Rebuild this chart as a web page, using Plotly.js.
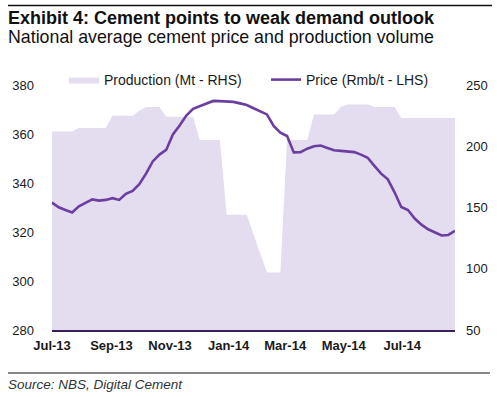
<!DOCTYPE html>
<html>
<head>
<meta charset="utf-8">
<script src="https://cdn.plot.ly/plotly-3.0.1.min.js"></script>
<style>html,body{margin:0;padding:0;background:#fff;}#chart{width:497px;height:397px;}</style>
</head>
<body>
<div id="chart"></div>
<script>
const weeks = [
  '2013-07-01','2013-07-08','2013-07-15','2013-07-22','2013-07-29',
  '2013-08-05','2013-08-12','2013-08-19','2013-08-26',
  '2013-09-02','2013-09-09','2013-09-16','2013-09-23','2013-09-30',
  '2013-10-07','2013-10-14','2013-10-21','2013-10-28',
  '2013-11-04','2013-11-11','2013-11-18','2013-11-25',
  '2013-12-02','2013-12-09','2013-12-16','2013-12-23','2013-12-30',
  '2014-01-06','2014-01-13','2014-01-20','2014-01-27',
  '2014-02-03','2014-02-10','2014-02-17','2014-02-24',
  '2014-03-03','2014-03-10','2014-03-17','2014-03-24','2014-03-31',
  '2014-04-07','2014-04-14','2014-04-21','2014-04-28',
  '2014-05-05','2014-05-12','2014-05-19','2014-05-26',
  '2014-06-02','2014-06-09','2014-06-16','2014-06-23','2014-06-30',
  '2014-07-07','2014-07-14','2014-07-21','2014-07-28',
  '2014-08-04','2014-08-11','2014-08-18','2014-08-25'
];
// Production, Mt (right axis)
const production = [
  212,212,212,212,
  215,215,215,215,215,
  225,225,225,225,
  229,
  232,232,232,
  224,224,224,224,224,
  205,205,205,205,
  144,144,144,144,
  128,113,
  97,97,97,
  205,205,205,205,
  226,226,226,226,
  232,
  234,234,234,234,
  232,232,232,232,
  223,223,223,223,223,223,223,223,223
];
// Price, Rmb/t (left axis)
const price = [
  332.0,330.1,329.0,328.0,330.5,332.0,333.3,332.8,333.1,333.8,
  333.1,335.6,336.8,339.5,343.8,348.8,351.6,353.5,359.8,363.5,
  367.5,370.3,371.3,372.3,373.5,373.4,373.3,373.1,372.5,371.8,
  370.5,369.2,368.0,363.3,360.5,359.2,352.5,352.6,354.0,355.0,
  355.3,354.3,353.4,353.1,352.9,352.6,351.6,350.3,347.0,343.8,
  341.5,336.2,330.2,329.0,325.5,323.0,321.1,320.0,318.6,318.8,
  320.5
];
const seriesNames = ['Production (Mt - RHS)', 'Price (Rmb/t - LHS)'];
const titleText = 'Exhibit 4: Cement points to weak demand outlook';
const subtitleText = 'National average cement price and production volume';
const sourceText = 'Source: NBS, Digital Cement';

const FONT = 'Liberation Sans, Arial, sans-serif';
const W = 497, H = 397;
const M = {l: 52, r: 42, t: 85, b: 67};
const pw = W - M.l - M.r, ph = H - M.t - M.b;
const px = x => (x - M.l) / pw;
const py = y => (H - M.b - y) / ph;

const traces = [
  {
    x: weeks, y: production, name: seriesNames[0], type: 'scatter', mode: 'lines',
    fill: 'tozeroy', fillcolor: '#E4DCEF', line: {width: 0, color: '#E4DCEF'},
    yaxis: 'y', legend: 'legend', hoverinfo: 'skip'
  },
  {
    x: weeks, y: price, name: seriesNames[1], type: 'scatter', mode: 'lines',
    line: {width: 2.6, color: '#6B3FA0'},
    yaxis: 'y2', legend: 'legend2', hoverinfo: 'skip'
  }
];

const layout = {
  width: W, height: H,
  margin: M,
  paper_bgcolor: '#fff', plot_bgcolor: '#fff',
  font: {family: FONT, color: '#1a1a1a'},
  showlegend: true,
  xaxis: {
    type: 'date', range: ['2013-07-01', '2014-08-25'],
    tick0: '2013-07-01', dtick: 'M2', tickformat: '%b-%y',
    showgrid: false, zeroline: false, ticks: '',
    showline: true, linecolor: '#3A1F5C', linewidth: 2,
    tickfont: {family: FONT, size: 13, color: '#1a1a1a', weight: 'bold'},
    ticklabelstandoff: 2
  },
  yaxis: {
    side: 'right', range: [50, 250], dtick: 50,
    showgrid: false, zeroline: false, showline: false, ticks: '',
    tickfont: {family: FONT, size: 13, color: '#1a1a1a'},
    ticklabelstandoff: 10
  },
  yaxis2: {
    overlaying: 'y', side: 'left', range: [280, 380], dtick: 20,
    showgrid: false, zeroline: false, showline: false, ticks: '',
    tickfont: {family: FONT, size: 13, color: '#1a1a1a'},
    ticklabelstandoff: 17
  },
  legend: {
    x: px(64), y: py(80), xanchor: 'left', yanchor: 'middle',
    orientation: 'h', bgcolor: 'rgba(0,0,0,0)', borderwidth: 0,
    font: {family: FONT, size: 14, color: '#1a1a1a'}
  },
  legend2: {
    x: px(266), y: py(80), xanchor: 'left', yanchor: 'middle',
    orientation: 'h', bgcolor: 'rgba(0,0,0,0)', borderwidth: 0,
    font: {family: FONT, size: 14, color: '#1a1a1a'}
  },
  shapes: [
    {type: 'line', xref: 'paper', yref: 'paper', x0: px(8), x1: px(492), y0: py(5.5), y1: py(5.5),
     line: {color: '#111', width: 1.5}},
    {type: 'line', xref: 'paper', yref: 'paper', x0: px(8), x1: px(490), y0: py(373), y1: py(373),
     line: {color: '#111', width: 1.2}}
  ],
  annotations: [
    {text: '<b>' + titleText + '</b>', xref: 'paper', yref: 'paper', x: px(6), y: py(18),
     xanchor: 'left', yanchor: 'middle', showarrow: false,
     font: {family: FONT, size: 18, color: '#111'}},
    {text: subtitleText, xref: 'paper', yref: 'paper', x: px(6), y: py(37),
     xanchor: 'left', yanchor: 'middle', showarrow: false,
     font: {family: FONT, size: 17.8, color: '#111'}},
    {text: '<i>' + sourceText + '</i>', xref: 'paper', yref: 'paper', x: px(6), y: py(384),
     xanchor: 'left', yanchor: 'middle', showarrow: false,
     font: {family: FONT, size: 13.5, color: '#333'}}
  ]
};

Plotly.newPlot('chart', traces, layout, {staticPlot: true, displayModeBar: false});
</script>
</body>
</html>
